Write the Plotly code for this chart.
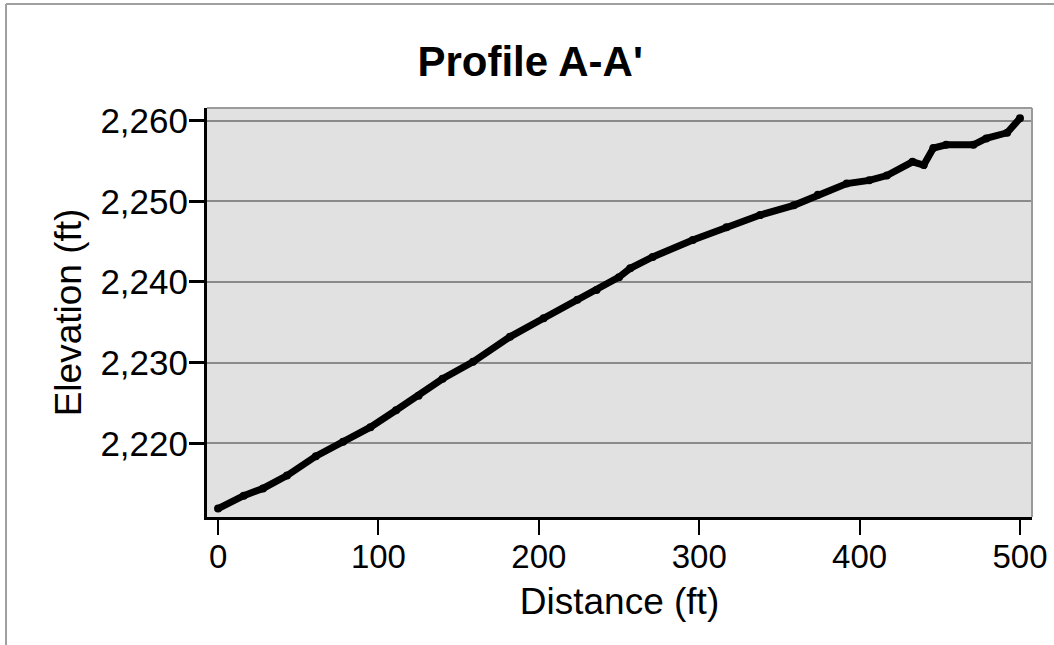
import plotly.graph_objects as go

distance_ft = [0, 16, 28, 43, 61, 78, 95, 111, 125, 140, 159, 182, 203, 224, 236,
               250, 257, 271, 296, 317, 338, 359, 374, 392, 406, 417, 433, 440,
               446, 454, 471, 479, 492, 500]
elevation_ft = [2211.9, 2213.5, 2214.4, 2216.0, 2218.4, 2220.2, 2222.0, 2224.1,
                2225.9, 2228.0, 2230.1, 2233.2, 2235.5, 2237.8, 2239.0, 2240.6,
                2241.7, 2243.1, 2245.2, 2246.8, 2248.3, 2249.5, 2250.8, 2252.2,
                2252.6, 2253.2, 2254.9, 2254.5, 2256.6, 2257.0, 2257.0, 2257.8,
                2258.5, 2260.3]
x_ticks = [0, 100, 200, 300, 400, 500]
y_ticks = [2220, 2230, 2240, 2250, 2260]
y_tick_text = ["2,220", "2,230", "2,240", "2,250", "2,260"]

FONT = "Liberation Sans, Arial, sans-serif"

fig = go.Figure()
fig.add_trace(go.Scatter(
    x=distance_ft, y=elevation_ft, mode="lines+markers",
    line=dict(color="black", width=7),
    marker=dict(color="black", size=8),
    showlegend=False, hoverinfo="x+y",
))

fig.update_layout(
    width=1054, height=645,
    margin=dict(l=207, r=22, t=108, b=128),
    paper_bgcolor="white", plot_bgcolor="#e1e1e1",
    font=dict(family=FONT, color="black", size=33),
    title=dict(text="<b>Profile A-A'</b>", x=0.503, xanchor="center",
               y=0.905, yanchor="middle", font=dict(size=42, family=FONT)),
    xaxis=dict(range=[-6.9, 507.5], tickvals=x_ticks, showgrid=False,
               zeroline=False, showline=True, linecolor="black", linewidth=3,
               ticks="outside", ticklen=15, tickwidth=2, tickcolor="black",
               tickfont=dict(size=33), automargin=False, ticklabelstandoff=-7,
               title=dict(text="Distance (ft)", font=dict(size=37), standoff=15)),
    yaxis=dict(range=[2210.86, 2261.57], tickvals=y_ticks, ticktext=y_tick_text,
               showgrid=True, gridcolor="#8a8a8a", gridwidth=2,
               zeroline=False, showline=True, linecolor="black", linewidth=3,
               ticks="outside", ticklen=15, tickwidth=3, tickcolor="black",
               tickfont=dict(size=35), automargin=False, ticklabelstandoff=-6,
               title=dict(text="Elevation (ft)", font=dict(size=37), standoff=8)),
    shapes=[
        # plot frame top and right (grey)
        dict(type="line", xref="paper", yref="paper", x0=0, x1=1, y0=1, y1=1,
             line=dict(color="#9a9a9a", width=2), layer="above"),
        dict(type="line", xref="paper", yref="paper", x0=1, x1=1, y0=0, y1=1,
             line=dict(color="#9a9a9a", width=2), layer="above"),
        # outer frame top and left
        dict(type="line", xref="paper", yref="paper", x0=-0.2436, x1=1.03,
             y0=1.2543, y1=1.2543, line=dict(color="#a0a0a0", width=2)),
        dict(type="line", xref="paper", yref="paper", x0=-0.2436, x1=-0.2436,
             y0=-0.32, y1=1.2543, line=dict(color="#a0a0a0", width=2)),
    ],
)

fig.write_html(
    "out.html",
    config={"displayModeBar": False},
    post_script="document.body.style.margin='0';document.body.style.overflow='hidden';",
)
